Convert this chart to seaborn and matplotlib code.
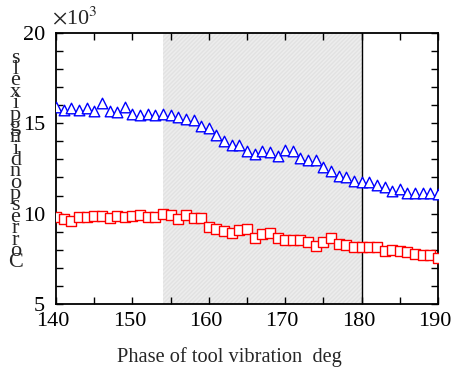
import matplotlib
matplotlib.use("Agg")
import matplotlib.pyplot as plt
import matplotlib.transforms as mtransforms
import seaborn as sns
from matplotlib.ticker import MultipleLocator

# phase of tool vibration (deg), one sample per degree
phase = list(range(140, 191))

# upper series (blue triangles), in units of 10^3
upper = [15.89, 15.76, 15.85, 15.76, 15.83, 15.65, 16.11, 15.70, 15.61, 15.89,
         15.52, 15.48, 15.52, 15.44, 15.52, 15.46, 15.35, 15.26, 15.19, 14.85,
         14.72, 14.35, 14.00, 13.82, 13.81, 13.44, 13.31, 13.49, 13.40, 13.20,
         13.53, 13.47, 13.07, 12.98, 12.98, 12.58, 12.34, 12.10, 12.01, 11.83,
         11.74, 11.74, 11.61, 11.47, 11.25, 11.39, 11.16, 11.16, 11.16, 11.16,
         11.07]

# lower series (red squares), in units of 10^3
lower = [9.81, 9.68, 9.57, 9.81, 9.81, 9.87, 9.87, 9.76, 9.89, 9.81,
         9.85, 9.94, 9.81, 9.81, 9.98, 9.91, 9.68, 9.92, 9.78, 9.74,
         9.24, 9.17, 9.05, 8.94, 9.07, 9.16, 8.67, 8.87, 8.91, 8.63,
         8.52, 8.52, 8.52, 8.42, 8.23, 8.42, 8.67, 8.34, 8.27, 8.18,
         8.13, 8.13, 8.13, 7.91, 7.98, 7.94, 7.87, 7.76, 7.69, 7.69,
         7.52]

shade_start, shade_end = 154.0, 180

ylabel_text = "Correspondingpixels"

sns.set_theme(style="ticks")
plt.rcParams['font.family'] = ['Liberation Serif', 'DejaVu Serif']
plt.rcParams['mathtext.fontset'] = 'stix'

fig = plt.figure(figsize=(4.52, 3.69), dpi=100)
ax = fig.add_axes([0.124, 0.176, 0.845, 0.735])

ax.axvspan(shade_start, shade_end, facecolor="#ededed", edgecolor="#e2e2e2",
           hatch="////////", linewidth=0, zorder=0)
ax.axvline(shade_end, color="black", linewidth=1.0, zorder=1)

sns.scatterplot(x=phase, y=upper, marker="^", s=58, facecolor="white",
                edgecolor="#0000ff", linewidth=1.0, ax=ax, zorder=3)
sns.scatterplot(x=phase, y=lower, marker="s", s=50, facecolor="white",
                edgecolor="#ff0000", linewidth=1.0, ax=ax, zorder=3)

ax.set_xlim(140, 190)
ax.set_ylim(5, 20)
ax.xaxis.set_major_locator(MultipleLocator(10))
ax.xaxis.set_minor_locator(MultipleLocator(5))
ax.yaxis.set_major_locator(MultipleLocator(5))
ax.yaxis.set_minor_locator(MultipleLocator(1))
ax.tick_params(which="both", direction="in", top=True, right=True,
               length=5, width=1.0, labelsize=16, color="black", labelcolor="black")
ax.tick_params(axis="x", pad=6)
ax.tick_params(axis="y", pad=8)
for sp in ax.spines.values():
    sp.set_linewidth(1.3)
    sp.set_color("black")

# nudge x tick labels slightly left so "190" stays inside the figure
shift = mtransforms.ScaledTranslation(-3 / 100, 0, fig.dpi_scale_trans)
for lbl in ax.get_xticklabels():
    lbl.set_transform(lbl.get_transform() + shift)

ax.set_xlabel("Phase of tool vibration  deg", fontsize=14.7)
ax.xaxis.set_label_coords(0.454, -0.158)
ax.xaxis.label.set_va("top")
ax.text(-0.01, 1.012, r"$\times$10$^3$", transform=ax.transAxes, fontsize=16,
        ha="left", va="bottom")

# stacked, unrotated characters read bottom to top
fig.text(0.034, 0.565, "\n".join(reversed(ylabel_text)), fontsize=16,
         ha="center", va="center", linespacing=0.455)

fig.savefig("out.png", dpi=100)
